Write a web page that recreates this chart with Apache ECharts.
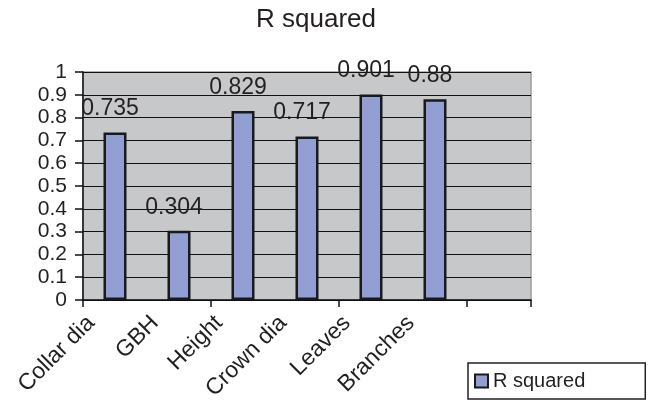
<!DOCTYPE html>
<html>
<head>
    <meta charset="utf-8" />
    <title>R squared</title>
    <script src="https://cdnjs.cloudflare.com/ajax/libs/echarts/6.0.0/echarts.min.js"></script>
    <style>
        body, html {
            margin: 0;
            padding: 0;
            background: #fff;
        }
        #main {
            width: 651px;
            height: 403px;
        }
    </style>
</head>
<body>
<div id="main"></div>
<script type="text/javascript">
    // 数据
    var categories = ['Collar dia', 'GBH', 'Height', 'Crown dia', 'Leaves', 'Branches', ''];
    var rSquared = [0.735, 0.304, 0.829, 0.717, 0.901, 0.88, null];
    var yTicks = [0, 0.1, 0.2, 0.3, 0.4, 0.5, 0.6, 0.7, 0.8, 0.9, 1];

    var font = 'Arial, "Liberation Sans", sans-serif';
    var ink = '#231f20';

    var chart = echarts.init(document.getElementById('main'));
    var option = {
        animation: false,
        title: {
            text: 'R squared',
            left: 251,
            top: 2,
            padding: 5,
            textStyle: { fontFamily: font, fontSize: 26, fontWeight: 'normal', color: ink }
        },
        legend: {
            data: ['R squared'],
            left: 468,
            top: 363,
            orient: 'horizontal',
            padding: [8, 60, 8, 6],
            borderColor: '#222',
            borderWidth: 1.5,
            itemWidth: 13,
            itemHeight: 13,
            itemGap: 4,
            icon: 'rect',
            textStyle: { fontFamily: font, fontSize: 20, color: ink }
        },
        grid: [
            { // 主图
                left: 83, right: 120, top: 72, bottom: 103,
                show: true,
                backgroundColor: '#c7c8ca',
                borderColor: '#9a9a9a',
                borderWidth: 1.5
            },
            { // 只用来放倾斜的类目标签
                left: 59, right: 144, top: 72, bottom: 103
            }
        ],
        xAxis: [
            {
                type: 'category',
                gridIndex: 0,
                data: categories,
                axisLine: { lineStyle: { color: '#111', width: 1.5 } },
                axisTick: { show: true, inside: false, length: 7, lineStyle: { color: '#111', width: 1.5 } },
                axisLabel: { show: false }
            },
            {
                type: 'category',
                gridIndex: 1,
                data: categories,
                axisLine: { show: false },
                axisTick: { show: false },
                splitLine: { show: false },
                axisLabel: {
                    rotate: 45,
                    margin: 25,
                    interval: 0,
                    fontFamily: font,
                    fontSize: 23,
                    color: ink
                }
            }
        ],
        yAxis: [
            {
                type: 'value',
                gridIndex: 0,
                min: yTicks[0],
                max: yTicks[yTicks.length - 1],
                interval: 0.1,
                axisLine: { show: true, lineStyle: { color: '#111', width: 1.5 } },
                axisTick: { show: true, inside: false, length: 8, lineStyle: { color: '#111', width: 1.5 } },
                splitLine: { show: true, lineStyle: { color: '#111', width: 1 } },
                axisLabel: {
                    margin: 16,
                    fontFamily: font,
                    fontSize: 21,
                    color: ink,
                    formatter: function (v) { return String(Math.round(v * 10) / 10); }
                }
            },
            {
                type: 'value',
                gridIndex: 1,
                min: 0,
                max: 1,
                show: false
            }
        ],
        series: [
            {
                name: 'R squared',
                type: 'bar',
                xAxisIndex: 0,
                yAxisIndex: 0,
                data: rSquared,
                barWidth: 23,
                itemStyle: {
                    color: '#919fd2',
                    borderColor: '#1a1a1a',
                    borderWidth: 2.5
                },
                label: {
                    show: true,
                    position: 'top',
                    distance: 12,
                    offset: [-5, 0],
                    fontFamily: font,
                    fontSize: 23,
                    color: ink
                }
            }
        ]
    };
    chart.setOption(option);
</script>
</body>
</html>
